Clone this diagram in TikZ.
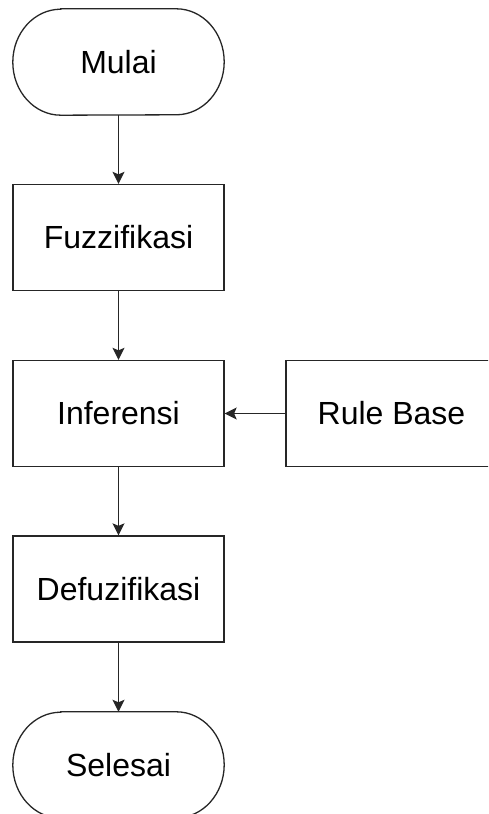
\documentclass[tikz,border=0pt]{standalone}
\usepackage{fontspec}
\setmainfont{Liberation Sans}
\usetikzlibrary{arrows.meta,calc}
\begin{document}
\begin{tikzpicture}[x=1pt,y=1pt,
  box/.style={draw=black!85, line width=1.3pt, minimum width=211pt, minimum height=106pt, inner sep=0pt, font=\fontsize{32}{38}\selectfont},
  term/.style={minimum width=211pt, minimum height=106pt, inner sep=0pt, font=\fontsize{32}{38}\selectfont},
  arr/.style={draw=black!85, line width=1.3pt, -{Stealth[length=12pt,width=12pt,inset=2.5pt]}},
  stadium/.style={draw=black!85, line width=1.3pt}
]
\clip (0,0) rectangle (488,814);
\fill[white] (0,0) rectangle (488,814);
\node[term] (mulai) at (118.5,752) {Mulai};
\node[box] (fuzz) at (118.5,576.5) {Fuzzifikasi};
\node[box] (inf) at (118.5,400.5) {Inferensi};
\node[box] (rule) at (391.5,400.5) {Rule Base};
\node[box] (defuz) at (118.5,225) {Defuzifikasi};
\node[term] (selesai) at (118.5,49) {Selesai};
\foreach \n in {mulai,selesai}{
  \draw[stadium] ($(\n.north west)+(48,0)$) -- ($(\n.north east)+(-48,0)$)
    arc[start angle=90,end angle=-90,x radius=48,y radius=53]
    -- ($(\n.south west)+(48,0)$)
    arc[start angle=270,end angle=90,x radius=48,y radius=53] -- cycle;
}
\draw[arr] (mulai) -- (fuzz);
\draw[arr] (fuzz) -- (inf);
\draw[arr] (inf) -- (defuz);
\draw[arr] (defuz) -- (selesai);
\draw[arr] (rule) -- (inf);
\end{tikzpicture}
\end{document}
